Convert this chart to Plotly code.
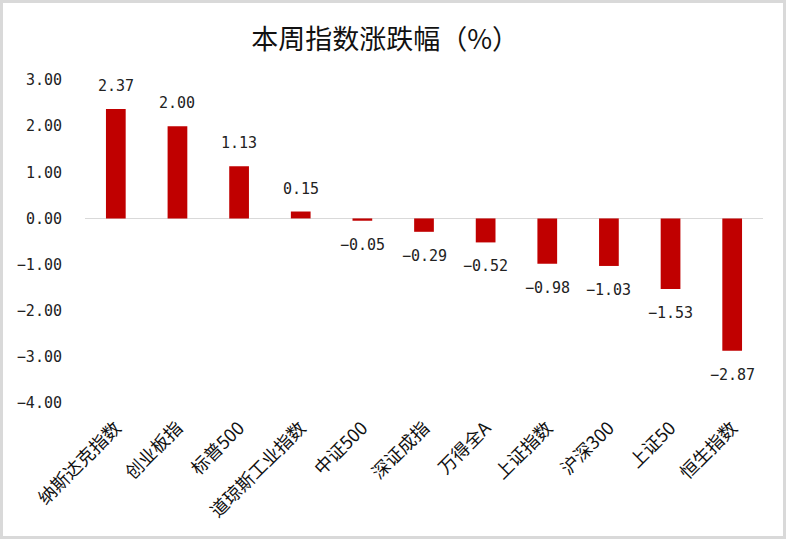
"""Weekly index change bar chart"""

from plotly import graph_objects as go

categories = [
    "纳斯达克指数", "创业板指", "标普500", "道琼斯工业指数", "中证500", "深证成指",
    "万得全A", "上证指数", "沪深300", "上证50", "恒生指数",
]
changes = [2.37, 2.00, 1.13, 0.15, -0.05, -0.29, -0.52, -0.98, -1.03, -1.53, -2.87]
y_ticks = [3, 2, 1, 0, -1, -2, -3, -4]

FONT = "Noto Sans CJK SC, SimHei, sans-serif"
NUM_FONT = "DejaVu Sans Mono, monospace"
W, H = 786, 539
M = dict(l=85, r=23, t=80, b=136)


def fmt(v: float) -> str:
    """Two decimals with a proper minus sign"""
    return f"{v:.2f}".replace("-", "\u2212")


fig = go.Figure(
    go.Bar(
        x=categories,
        y=changes,
        marker=dict(color="#C00000", line=dict(width=0)),
        width=0.32,
        hoverinfo="x+y",
    )
)

# data labels, kept a bit away from bar ends like the Excel original
annotations = []
for cat, val in zip(categories, changes):
    annotations.append(
        dict(
            x=cat,
            y=val,
            text=fmt(val),
            showarrow=False,
            xanchor="center",
            yanchor="bottom" if val >= 0 else "top",
            yshift=12 if val >= 0 else -13,
            font=dict(size=15, color="#222222", family=NUM_FONT),
        )
    )

pw = W - M["l"] - M["r"]
ph = H - M["t"] - M["b"]

fig.update_layout(
    width=W,
    height=H,
    margin=M,
    paper_bgcolor="white",
    plot_bgcolor="white",
    showlegend=False,
    annotations=annotations,
    title=dict(
        text="本周指数涨跌幅（%）",
        x=0.49,
        xanchor="center",
        y=1 - 40 / H,
        yanchor="middle",
        font=dict(size=27, color="#111111", family=FONT),
    ),
    font=dict(family=FONT, color="#222222"),
    shapes=[
        dict(
            type="rect",
            xref="paper",
            yref="paper",
            x0=-(M["l"] - 1.5) / pw,
            x1=1 + (M["r"] - 1.5) / pw,
            y0=-(M["b"] - 1.5) / ph,
            y1=1 + (M["t"] - 1.5) / ph,
            line=dict(color="#D9D9D9", width=3),
            layer="below",
        )
    ],
)

fig.update_xaxes(
    tickangle=-45,
    tickfont=dict(size=18, color="#111111", family=FONT),
    showline=False,
    showgrid=False,
    ticks="",
    ticklabelstandoff=10,
    automargin=False,
)

fig.update_yaxes(
    range=[-4, 3],
    tickvals=y_ticks,
    ticktext=[fmt(v) for v in y_ticks],
    tickfont=dict(size=15, color="#222222", family=NUM_FONT),
    showgrid=False,
    zeroline=True,
    zerolinecolor="#D9D9D9",
    zerolinewidth=1,
    showline=False,
    ticks="",
    ticklabelstandoff=22,
    automargin=False,
)

fig.write_html(
    "out.html",
    config={"displayModeBar": False},
    post_script="document.body.style.margin='0';",
)
